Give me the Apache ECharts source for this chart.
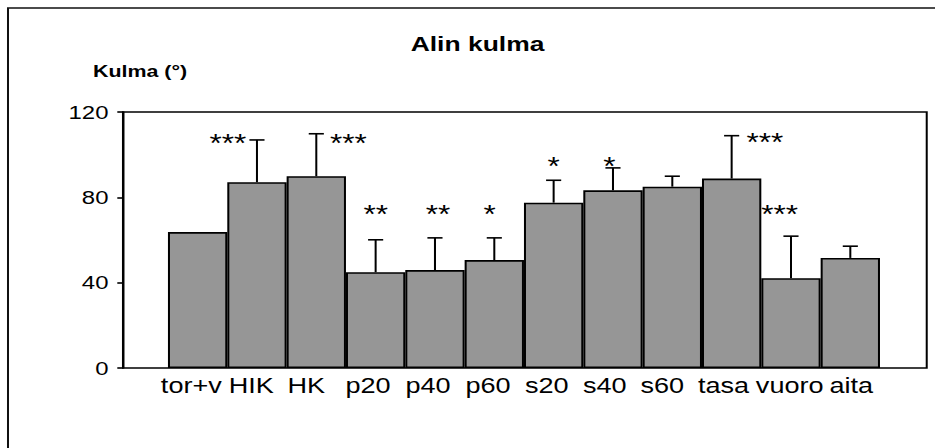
<!DOCTYPE html>
<html>
<head>
<meta charset="utf-8">
<script src="https://cdn.jsdelivr.net/npm/echarts@6/dist/echarts.min.js"></script>
<style>
  html, body { margin: 0; padding: 0; background: #fff; overflow: hidden; }
  /* the chart is laid out narrow and widened horizontally, like the original worksheet chart */
  #chart { width: 742px; height: 448px; transform: scaleX(1.26); transform-origin: 0 0; }
</style>
</head>
<body>
<div id="chart"></div>
<script>
// Lowest angle (degrees), mean and standard deviation per condition
const categories = ['tor+v', 'HIK', 'HK', 'p20', 'p40', 'p60', 's20', 's40', 's60', 'tasa', 'vuoro', 'aita'];
const meanAngle  = [63.7, 87.1, 89.9, 44.9, 45.9, 50.6, 77.5, 83.3, 85.0, 88.8, 42.1, 51.6];
const sdAngle    = [0, 19.8, 19.9, 15.2, 15.1, 10.4, 10.5, 10.5, 4.9, 20.1, 19.7, 5.5];
// significance versus tor+v
const significance = ['', '***', '***', '**', '**', '*', '*', '*', '', '***', '***', ''];
const yTicks = [0, 40, 80, 120];

// where each significance marker sits: horizontal shift in bar widths, height in degrees
const markerPlacement = {
  1: { dx: -0.49, level: 106.1 },
  2: { dx: 0.54, level: 106.4 },
  3: { dx: 0.0, level: 73.2 },
  4: { dx: 0.05, level: 73.2 },
  5: { dx: -0.08, level: 73.2 },
  6: { dx: 0.0, level: 95.6 },
  7: { dx: -0.06, level: 95.6 },
  9: { dx: 0.56, level: 106.6 },
  10: { dx: -0.19, level: 72.8 }
};
// category labels are typeset as one spaced line, so each sits a little left of its bar
const labelShift = [-5, -4.5, -8, -6, -5.5, -5, -5.5, -6.5, -8, -6.5, -1, 0.8];

const FONT = 'Liberation Sans, Arial, sans-serif';
const yMin = yTicks[0];
const yMax = yTicks[yTicks.length - 1];
const yStep = yTicks[1] - yTicks[0];

const barData = meanAngle.map((v, i) => [i, v]);
const errData = meanAngle.map((v, i) => [i, v, sdAngle[i]]).filter(d => d[2] > 0);
const markerData = significance
  .map((s, i) => (s ? [i, markerPlacement[i].level, markerPlacement[i].dx] : null))
  .filter(Boolean);

// one rich style per category label, padded so the label drifts sideways
const labelRich = {};
labelShift.forEach((d, i) => {
  labelRich['c' + i] = {
    fontFamily: 'Liberation Sans, Arial, sans-serif',
    fontSize: 21.5,
    color: '#000',
    padding: d < 0 ? [0, -2 * d, 0, 0] : [0, 0, 0, 2 * d]
  };
});

const chart = echarts.init(document.getElementById('chart'), null, { renderer: 'svg' });

chart.setOption({
  backgroundColor: '#fff',
  animation: false,
  title: {
    text: 'Alin kulma',
    left: 374,
    textAlign: 'center',
    top: 28,
    textStyle: { fontFamily: FONT, fontWeight: 'bold', fontSize: 21, color: '#000' }
  },
  graphic: [
    {
      type: 'rect',
      shape: { x: 6.35, y: 8, width: 900, height: 600 },
      style: { fill: 'none', stroke: '#111', lineWidth: 1.6 },
      silent: true
    },
    {
      type: 'text',
      left: 73.8,
      top: 62.5,
      style: { text: 'Kulma (°)', fill: '#000', font: 'bold 17px ' + FONT }
    }
  ],
  grid: [
    // plot frame with the value axis
    { left: 97.6, right: 6.5, top: 112, bottom: 80, show: true, borderColor: '#000', borderWidth: 1.6, backgroundColor: '#fff' },
    // bar block
    { left: 133.3, right: 43.6, top: 112, bottom: 80 }
  ],
  xAxis: [
    { gridIndex: 0, type: 'value', min: 0, max: 1, show: false },
    {
      gridIndex: 1,
      type: 'category',
      data: categories,
      axisLine: { show: false },
      axisTick: { show: false },
      axisLabel: {
        color: '#000',
        fontFamily: FONT,
        fontSize: 21.5,
        margin: 7,
        interval: 0,
        formatter: function (value, index) { return '{c' + index + '|' + value + '}'; },
        rich: labelRich
      }
    }
  ],
  yAxis: [
    {
      gridIndex: 0,
      type: 'value',
      min: yMin,
      max: yMax,
      interval: yStep,
      axisLine: { show: true, lineStyle: { color: '#000', width: 1.6 } },
      axisTick: { show: true, length: 4.5, lineStyle: { color: '#000', width: 1.6 } },
      axisLabel: { color: '#000', fontFamily: FONT, fontSize: 19, margin: 11.5 },
      splitLine: { show: false }
    },
    { gridIndex: 1, type: 'value', min: yMin, max: yMax, interval: yStep, show: false }
  ],
  series: [
    {
      type: 'bar',
      xAxisIndex: 1,
      yAxisIndex: 1,
      data: barData,
      barWidth: '100%',
      barCategoryGap: 0,
      itemStyle: { color: '#969696', borderColor: '#000', borderWidth: 1.6 },
      z: 2
    },
    {
      type: 'custom',
      xAxisIndex: 1,
      yAxisIndex: 1,
      data: errData,
      z: 3,
      renderItem: function (params, api) {
        const i = api.value(0);
        const base = api.coord([i, api.value(1)]);
        const top = api.coord([i, api.value(1) + api.value(2)]);
        const half = 6;
        const st = { stroke: '#000', lineWidth: 1.6 };
        return {
          type: 'group',
          children: [
            { type: 'line', shape: { x1: base[0], y1: base[1], x2: top[0], y2: top[1] }, style: st },
            { type: 'line', shape: { x1: top[0] - half, y1: top[1], x2: top[0] + half, y2: top[1] }, style: st }
          ]
        };
      }
    },
    {
      type: 'custom',
      xAxisIndex: 1,
      yAxisIndex: 1,
      data: markerData,
      z: 4,
      renderItem: function (params, api) {
        const i = api.value(0);
        const p = api.coord([i, api.value(1)]);
        const band = api.size([1, 0])[0];
        return {
          type: 'text',
          x: p[0] + api.value(2) * band,
          y: p[1] + 2,
          style: {
            text: significance[i],
            fill: '#000',
            font: '25px ' + FONT,
            align: 'center',
            verticalAlign: 'middle'
          }
        };
      }
    }
  ]
});
</script>
</body>
</html>
